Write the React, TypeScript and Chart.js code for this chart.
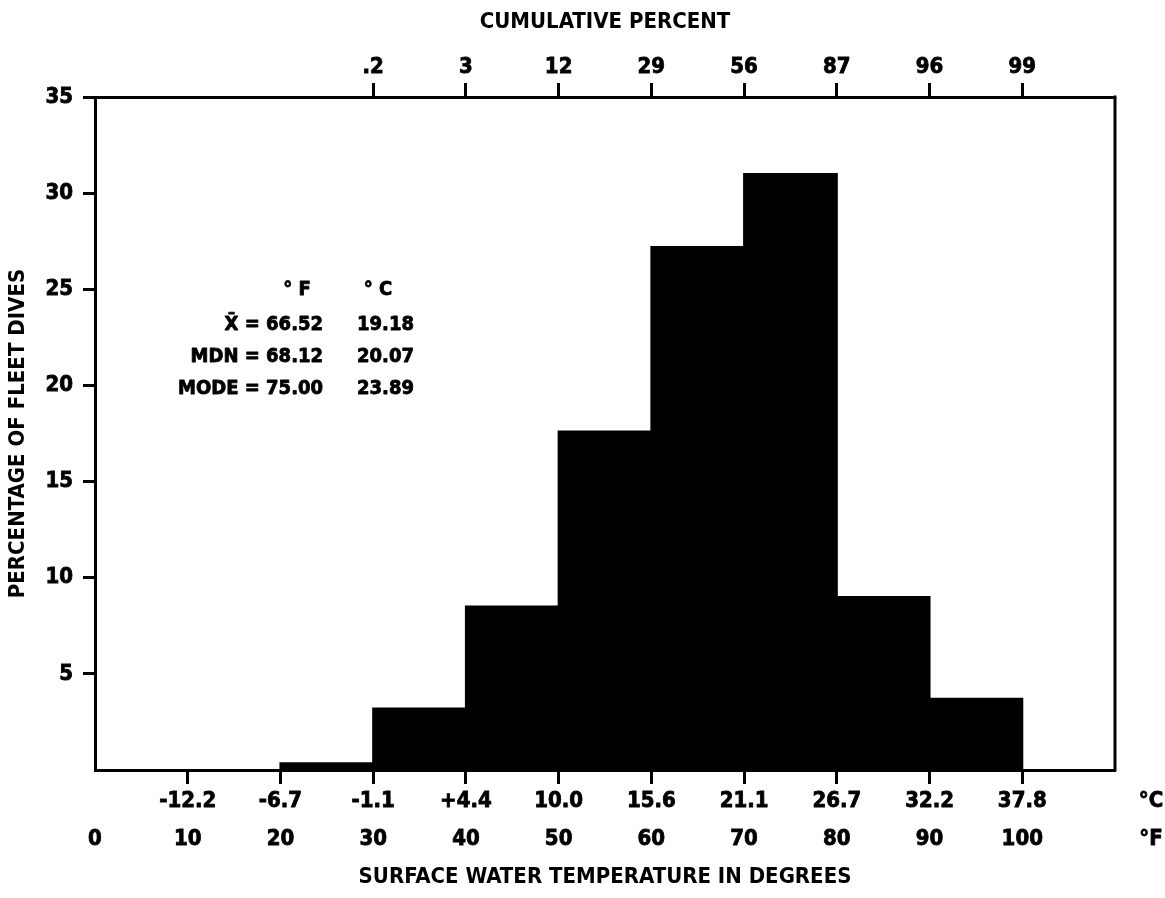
import React, { useEffect, useRef } from 'react';
import { Chart, registerables } from 'chart.js';

Chart.register(...registerables);

// ---- data ----
const binCentersF = [25, 35, 45, 55, 65, 75, 85, 95];
const percentOfDives = [0.35, 3.2, 8.5, 17.6, 27.2, 31.0, 9.0, 3.7];
const fahrenheitTicks = [0, 10, 20, 30, 40, 50, 60, 70, 80, 90, 100];
const celsiusLabels = ['', '-12.2', '-6.7', '-1.1', '+4.4', '10.0', '15.6', '21.1', '26.7', '32.2', '37.8'];
const cumulativeTicksF = [30, 40, 50, 60, 70, 80, 90, 100];
const cumulativeLabels = ['.2', '3', '12', '29', '56', '87', '96', '99'];
const yTicks = [5, 10, 15, 20, 25, 30, 35];
const statNames = ['X\u0304 =', 'MDN =', 'MODE ='];
const statF = ['66.52', '68.12', '75.00'];
const statC = ['19.18', '20.07', '23.89'];

const FONT = '"Liberation Sans Narrow", "DejaVu Sans Condensed", "Arial Narrow", sans-serif';

function heavyText(ctx: any, text: string, x: number, y: number) {
  ctx.strokeText(text, x, y);
  ctx.fillText(text, x, y);
}

const overlayPlugin = {
  id: 'overlay',
  afterDraw(chart: any) {
    const ctx = chart.ctx;
    const { left, right, top, bottom } = chart.chartArea;
    ctx.save();
    ctx.strokeStyle = '#000';
    ctx.lineWidth = 3;
    ctx.beginPath();
    ctx.moveTo(right, top - 1.5);
    ctx.lineTo(right, bottom + 1.5);
    ctx.stroke();

    ctx.fillStyle = '#000';
    ctx.lineWidth = 0.8;
    ctx.lineJoin = 'round';
    ctx.textBaseline = 'middle';
    ctx.font = `bold 22px ${FONT}`;
    ctx.textAlign = 'center';
    heavyText(ctx, '°C', right + 36, bottom + 31);
    heavyText(ctx, '°F', right + 36, bottom + 69);

    // stats block
    ctx.font = `bold 20px ${FONT}`;
    ctx.textAlign = 'center';
    heavyText(ctx, '° F', left + 202, top + 193);
    heavyText(ctx, '° C', left + 283, top + 193);
    for (let i = 0; i < statNames.length; i++) {
      const y = top + 228 + i * 32;
      ctx.textAlign = 'right';
      heavyText(ctx, `${statNames[i]} ${statF[i]}`, left + 228, y);
      ctx.textAlign = 'left';
      heavyText(ctx, statC[i], left + 262, y);
    }
    ctx.restore();
  },
};

export default function App() {
  const ref = useRef<HTMLCanvasElement | null>(null);
  useEffect(() => {
    document.body.style.margin = '0';
    const canvas = ref.current!;
    const tickFont = { family: FONT, weight: 'bold' as const, size: 22 };
    const chart = new Chart(canvas, {
      type: 'bar',
      data: {
        datasets: [
          {
            data: binCentersF.map((x, i) => ({ x, y: percentOfDives[i] })),
            backgroundColor: '#000',
            borderWidth: 0,
            inflateAmount: 1,
            barPercentage: 1,
            categoryPercentage: 1,
          },
        ],
      },
      plugins: [overlayPlugin],
      options: {
        animation: false,
        responsive: false,
        devicePixelRatio: 1,
        layout: { padding: { left: 0, right: 50, top: 0, bottom: 0 } },
        plugins: { legend: { display: false }, tooltip: { enabled: false } },
        scales: {
          x: {
            type: 'linear',
            position: 'bottom',
            min: 0,
            max: 110,
            offset: false,
            afterBuildTicks: (s: any) => {
              s.ticks = fahrenheitTicks.map((v) => ({ value: v }));
            },
            afterFit: (s: any) => {
              s.height = 128;
            },
            grid: {
              offset: false,
              drawOnChartArea: false,
              tickLength: 14,
              tickWidth: 3,
              tickColor: (c: any) => (c.tick && c.tick.value === 0 ? 'rgba(0,0,0,0)' : '#000'),
            },
            border: { display: true, color: '#000', width: 3 },
            ticks: {
              autoSkip: false,
              maxRotation: 0,
              padding: -2,
              color: '#000',
              textStrokeColor: '#000',
              textStrokeWidth: 0.8,
              font: { ...tickFont, lineHeight: '38px' },
              callback: (v: any) => {
                const i = fahrenheitTicks.indexOf(Number(v));
                return [celsiusLabels[i] ?? '', String(v)];
              },
            },
            title: {
              display: true,
              text: 'SURFACE WATER TEMPERATURE IN DEGREES',
              color: '#000',
              font: { family: FONT, weight: 'bold', size: 22, lineHeight: 1.2 },
              padding: { top: 0, bottom: 8 },
            },
          },
          xTop: {
            type: 'linear',
            position: 'top',
            min: 0,
            max: 110,
            offset: false,
            afterBuildTicks: (s: any) => {
              s.ticks = cumulativeTicksF.map((v) => ({ value: v }));
            },
            afterFit: (s: any) => {
              s.height = 97;
            },
            grid: {
              offset: false,
              drawOnChartArea: false,
              tickLength: 14,
              tickWidth: 3,
              tickColor: '#000',
            },
            border: { display: true, color: '#000', width: 3 },
            ticks: {
              autoSkip: false,
              maxRotation: 0,
              padding: 3,
              color: '#000',
              textStrokeColor: '#000',
              textStrokeWidth: 0.8,
              font: tickFont,
              callback: (v: any) => cumulativeLabels[cumulativeTicksF.indexOf(Number(v))] ?? '',
            },
            title: {
              display: true,
              text: 'CUMULATIVE PERCENT',
              color: '#000',
              font: { family: FONT, weight: 'bold', size: 22, lineHeight: 1.2 },
              padding: { top: 9, bottom: 0 },
            },
          },
          y: {
            type: 'linear',
            min: 0,
            max: 35,
            afterBuildTicks: (s: any) => {
              s.ticks = yTicks.map((v) => ({ value: v }));
            },
            afterFit: (s: any) => {
              s.width = 95;
            },
            grid: {
              drawOnChartArea: false,
              tickLength: 12,
              tickWidth: 3,
              tickColor: '#000',
            },
            border: { display: true, color: '#000', width: 3 },
            ticks: {
              padding: 10,
              color: '#000',
              textStrokeColor: '#000',
              textStrokeWidth: 0.8,
              font: tickFont,
            },
            title: {
              display: true,
              text: 'PERCENTAGE OF FLEET DIVES',
              color: '#000',
              font: { family: FONT, weight: 'bold', size: 22, lineHeight: 1.2 },
              padding: { top: 5, bottom: 0 },
            },
          },
        },
      },
    });
    return () => chart.destroy();
  }, []);
  return <canvas ref={ref} width={1165} height={898} style={{ display: 'block' }} />;
}
